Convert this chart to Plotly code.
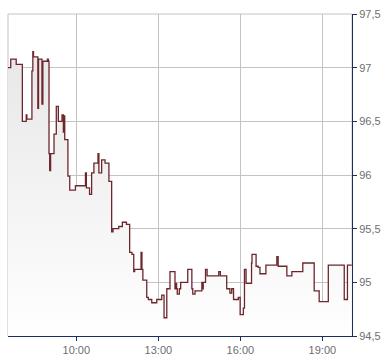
import plotly.graph_objects as go

DAY = "2024-01-15"

times = [
    "07:30:00", "07:36:00", "07:48:00", "08:01:30", "08:10:00", "08:11:30",
    "08:22:30", "08:24:30", "08:26:00", "08:35:30", "08:37:00", "08:44:30",
    "08:46:30", "08:56:30", "08:58:30", "09:00:00", "09:01:30", "09:03:30",
    "09:11:00", "09:16:00", "09:20:30", "09:28:30", "09:31:30", "09:33:00",
    "09:34:30", "09:41:30", "09:45:30", "09:58:00", "10:20:00", "10:22:00",
    "10:29:00", "10:33:30", "10:38:30", "10:47:30", "10:49:30", "10:55:30",
    "11:03:00", "11:11:30", "11:17:30", "11:20:30", "11:33:00", "11:41:00",
    "11:50:00", "11:57:00", "12:02:00", "12:06:00", "12:08:00", "12:22:00",
    "12:24:00", "12:26:00", "12:34:30", "12:38:00", "12:45:30", "12:56:30",
    "13:07:30", "13:12:30", "13:18:30", "13:25:30", "13:36:30", "13:38:00",
    "13:40:00", "13:41:30", "13:46:00", "13:49:00", "14:04:30", "14:13:30",
    "14:15:30", "14:20:30", "14:35:30", "14:37:00", "14:38:30", "14:43:30",
    "14:47:00", "15:12:30", "15:16:00", "15:30:00", "15:37:00", "15:41:00",
    "15:45:00", "15:55:30", "15:59:30", "16:06:30", "16:09:00", "16:12:30",
    "16:24:30", "16:25:30", "16:34:30", "16:39:00", "16:43:00", "16:56:00",
    "17:20:00", "17:23:00", "17:42:00", "17:53:00", "18:17:00", "18:42:00",
    "18:53:00", "19:13:00", "19:48:00", "19:55:00", "20:04:30",
]

prices = [
    97.00, 97.08, 97.03, 96.50, 96.56, 96.52,
    96.97, 97.15, 97.10, 96.62, 97.08, 96.66,
    97.06, 97.08, 97.06, 96.20, 96.04, 96.20,
    96.38, 96.64, 96.50, 96.56, 96.40, 96.55,
    96.33, 95.99, 95.86, 95.90, 96.02, 95.88,
    95.82, 96.02, 96.11, 96.20, 96.02, 96.14,
    96.11, 95.94, 95.47, 95.50, 95.52, 95.56,
    95.54, 95.28, 95.26, 95.10, 95.12, 95.28,
    95.12, 95.02, 94.86, 94.84, 94.81, 94.84,
    94.88, 94.67, 94.94, 95.10, 94.94, 94.99,
    94.94, 94.89, 94.94, 95.00, 95.12, 94.94,
    94.89, 94.92, 95.00, 94.94, 95.00, 95.12,
    95.06, 95.10, 95.06, 94.94, 94.90, 94.94,
    94.84, 94.86, 94.70, 94.76, 95.12, 94.99,
    95.18, 95.26, 95.15, 95.14, 95.08, 95.16,
    95.24, 95.15, 95.06, 95.10, 95.18, 94.92,
    94.82, 95.16, 94.84, 95.16, 95.16,
]

x_range = ["07:30:00", "20:05:00"]
y_range = [94.5, 97.5]
y_step = 0.5

LINE = "#6d262c"
NAVY = "#1b2d5c"
GRID = "#c3c3c3"
LABEL = "#6e6e6e"

xs = [f"{DAY} {t}" for t in times]

fig = go.Figure()
fig.add_trace(go.Scatter(
    x=xs, y=prices,
    mode="lines",
    line=dict(color=LINE, width=1.3, shape="hv"),
    fill="tozeroy",
    fillgradient=dict(
        type="vertical",
        colorscale=[[0, "#ffffff"], [1, "#e8e8e8"]],
        start=y_range[0], stop=97.1,
    ),
    hoverinfo="skip",
    showlegend=False,
))

fig.update_layout(
    width=390, height=364,
    margin=dict(l=8, r=38, t=11, b=24),
    paper_bgcolor="white",
    plot_bgcolor="white",
    separators=",.",
    font=dict(family="Liberation Sans, Arial, sans-serif", size=11, color=LABEL),
    showlegend=False,
    shapes=[dict(
        type="rect", xref="paper", yref="paper", x0=0, y0=0, x1=1, y1=1,
        line=dict(color=GRID, width=1), layer="below",
    )],
)

fig.update_xaxes(
    type="date",
    range=[f"{DAY} {x_range[0]}", f"{DAY} {x_range[1]}"],
    tick0=f"{DAY} 10:00:00",
    dtick=3 * 3600 * 1000,
    tickformat="%H:%M",
    showgrid=True, gridcolor=GRID, gridwidth=1,
    showline=True, linecolor=NAVY, linewidth=1,
    ticks="outside", ticklen=4, tickcolor=NAVY, tickwidth=1,
    zeroline=False,
    tickfont=dict(size=11, color=LABEL),
)

fig.update_yaxes(
    side="right",
    range=y_range,
    dtick=y_step,
    tick0=y_range[0],
    showgrid=True, gridcolor=GRID, gridwidth=1,
    showline=True, linecolor=NAVY, linewidth=1,
    ticks="outside", ticklen=4, tickcolor=NAVY, tickwidth=1,
    zeroline=False,
    tickfont=dict(size=11, color=LABEL),
)

fig.write_html("out.html")
